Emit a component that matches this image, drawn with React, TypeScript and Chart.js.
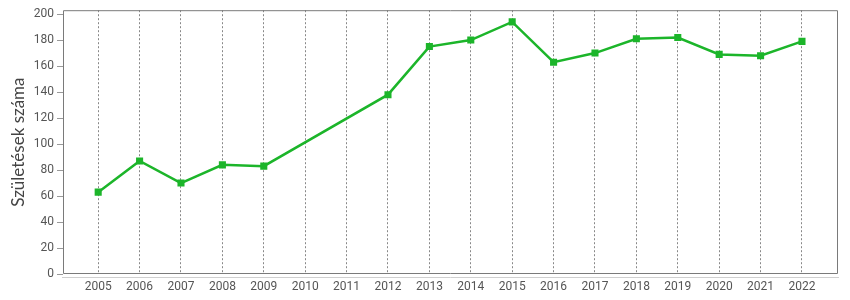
import React, { useEffect, useRef } from "react";
import { Chart, registerables } from "chart.js";

Chart.register(...registerables);

const years = [2005, 2006, 2007, 2008, 2009, 2010, 2011, 2012, 2013, 2014, 2015, 2016, 2017, 2018, 2019, 2020, 2021, 2022];
const pointYears = [2005, 2006, 2007, 2008, 2009, 2012, 2013, 2014, 2015, 2016, 2017, 2018, 2019, 2020, 2021, 2022];
const births = [63, 87, 70, 84, 83, 138, 175, 180, 194, 163, 170, 181, 182, 169, 168, 179];
const yTicks = [0, 20, 40, 60, 80, 100, 120, 140, 160, 180, 200];
const yTitle = "Születések száma";

const GREEN = "#1cb52a";

const framePlugin = {
  id: "frame",
  afterDraw(chart: any) {
    const { ctx, chartArea } = chart;
    const { left, right, top, bottom } = chartArea;
    ctx.save();
    ctx.strokeStyle = "#cfcfcf";
    ctx.lineWidth = 1;
    ctx.beginPath();
    ctx.moveTo(left - 1, bottom + 3.5);
    ctx.lineTo(right + 1, bottom + 3.5);
    ctx.stroke();
    ctx.strokeStyle = "#7a7a7a";
    ctx.beginPath();
    ctx.rect(left + 0.5, top + 0.5, right - left - 1, bottom - top - 1);
    ctx.stroke();
    ctx.restore();
  },
};

export default function App() {
  const ref = useRef<HTMLCanvasElement | null>(null);
  useEffect(() => {
    document.body.style.margin = "0";
    const chart = new Chart(ref.current as HTMLCanvasElement, {
      type: "line",
      data: {
        datasets: [
          {
            data: pointYears.map((x, i) => ({ x, y: births[i] })),
            borderColor: GREEN,
            backgroundColor: GREEN,
            borderWidth: 2.5,
            pointStyle: "rect",
            pointRadius: 5,
            pointBorderWidth: 0,
            pointBackgroundColor: GREEN,
            tension: 0,
          },
        ],
      },
      options: {
        animation: false,
        responsive: false,
        maintainAspectRatio: false,
        layout: { padding: { top: 10, right: 12, left: 0, bottom: 0 } },
        plugins: { legend: { display: false }, tooltip: { enabled: false } },
        scales: {
          x: {
            type: "linear",
            min: 2004.15,
            max: 2022.87,
            afterBuildTicks: (scale: any) => {
              scale.ticks = years.map((v) => ({ value: v }));
            },
            afterFit: (scale: any) => {
              scale.height = 26;
            },
            border: { display: false },
            grid: {
              color: "#888",
              lineWidth: 1,
              drawTicks: false,
            },
            ticks: {
              autoSkip: false,
              maxRotation: 0,
              padding: 6,
              color: "#555",
              font: { family: "Roboto", size: 12 },
              callback: (v: any) => String(v),
            },
          },
          y: {
            type: "linear",
            min: 0,
            max: 203,
            afterBuildTicks: (scale: any) => {
              scale.ticks = yTicks.map((v) => ({ value: v }));
            },
            afterFit: (scale: any) => {
              scale.width = 63;
            },
            border: { display: false },
            grid: {
              drawOnChartArea: false,
              drawTicks: true,
              tickLength: 6,
              color: "#999",
            },
            ticks: {
              padding: 3,
              color: "#555",
              font: { family: "Roboto", size: 12 },
            },
            title: {
              display: true,
              text: yTitle,
              color: "#444",
              font: { family: "Lato", size: 17 },
              padding: { top: 8, bottom: 4 },
            },
          },
        },
      } as any,
      plugins: [framePlugin],
    });
    (chart.options.scales as any).x.border = { display: false, dash: [2, 2] };
    (chart.options.scales as any).x.grid.borderDash = [2, 2];
    chart.update();
    return () => chart.destroy();
  }, []);
  return (
    <div style={{ position: "absolute", left: 0, top: 0, width: 850, height: 300, background: "#fff" }}>
      <canvas ref={ref} width={850} height={300} />
    </div>
  );
}
